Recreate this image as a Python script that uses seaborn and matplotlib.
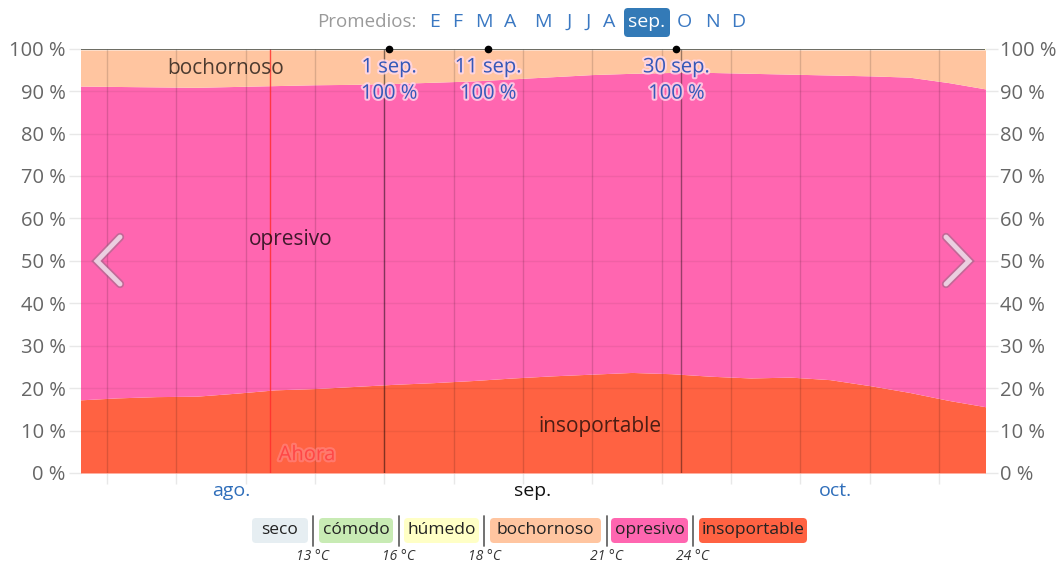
import numpy as np
import pandas as pd
import matplotlib.pyplot as plt
import seaborn as sns
from matplotlib import patheffects as pe
from matplotlib.patches import FancyBboxPatch

sns.set_theme(style="white")
plt.rcParams['font.family'] = ['Open Sans', 'DejaVu Sans']

# Data: day 0 = 1 ago., shares in % per comfort class
days = [0, 4, 8, 12, 16, 20, 24, 28, 32, 36, 40, 44, 48, 52, 56, 60, 64, 68, 72, 76, 80, 84, 88, 92]
insoportable = [17.2, 17.7, 18.0, 18.1, 18.8, 19.6, 19.9, 20.4, 20.9, 21.3, 21.8, 22.4,
                22.9, 23.3, 23.7, 23.4, 22.8, 22.4, 22.6, 22.0, 20.6, 19.0, 17.1, 15.5]
opresivo = [74.0, 73.4, 73.0, 72.8, 72.3, 71.7, 71.6, 71.2, 70.9, 70.8, 70.6, 70.5,
            70.5, 70.6, 70.5, 71.0, 71.6, 71.8, 71.4, 71.8, 73.0, 74.3, 74.9, 74.9]
bochornoso = [8.5, 8.6, 8.7, 8.8, 8.6, 8.4, 8.2, 8.1, 7.9, 7.6, 7.3, 6.8,
              6.3, 5.8, 5.5, 5.3, 5.3, 5.5, 5.7, 5.9, 6.1, 6.4, 7.7, 9.3]
humedo = [100 - a - b - c for a, b, c in zip(insoportable, opresivo, bochornoso)]

df = pd.DataFrame({'dia': days, 'insoportable': insoportable, 'opresivo': opresivo,
                   'bochornoso': bochornoso, 'húmedo': humedo})
df['total'] = df[['insoportable', 'opresivo', 'bochornoso', 'húmedo']].sum(axis=1)

legend_names = ['seco', 'cómodo', 'húmedo', 'bochornoso', 'opresivo', 'insoportable']
legend_colors = ['#E6EEF2', '#C8EBB4', '#FFFFC6', '#FFC5A0', '#FF66B0', '#FF6242']
legend_temps = ['13 °C', '16 °C', '18 °C', '21 °C', '24 °C']
nav_letters = ['E', 'F', 'M', 'A', 'M', 'J', 'J', 'A', 'sep.', 'O', 'N', 'D']
week_lines = [3, 10, 17, 24, 31, 38, 45, 52, 59, 66, 73, 80, 87]
month_bounds = [31, 61]
month_labels = [('ago.', 15.5, '#2F6EBA'), ('sep.', 46, '#111111'), ('oct.', 76.5, '#2F6EBA')]
marks = [(31.5, '1 sep.'), (41.5, '11 sep.'), (60.5, '30 sep.')]
now_day = 19.5

W, H = 1058, 565
fig = plt.figure(figsize=(W / 100, H / 100), dpi=100)
ax = fig.add_axes([81 / W, 92 / H, 904 / W, (473 - 48.7) / H])

ax.stackplot(df['dia'], df['insoportable'], df['opresivo'], df['bochornoso'], df['húmedo'],
             colors=['#FF6242', '#FF66B0', '#FFC5A0', '#FFFFC6'], linewidth=0, zorder=1)
sns.lineplot(data=df, x='dia', y='total', color='#555555', linewidth=1.2, ax=ax, zorder=4)

for v in range(0, 101, 10):
    ax.axhline(v, color='black', alpha=0.06, lw=1, zorder=2)
for d in week_lines:
    ax.axvline(d, color='black', alpha=0.14, lw=1, zorder=3)
for d in month_bounds:
    ax.axvline(d, color='black', alpha=0.4, lw=1, zorder=3)
ax.axvline(now_day, color='#FF2A2A', alpha=0.8, lw=1, zorder=3)

ax.set_xlim(0.38, 91.65)
ax.set_ylim(0, 100)
ax.set_xticks(week_lines)
ax.set_xticklabels([])
ax.set_yticks(range(0, 101, 10))
ax.set_yticklabels([f'{v} %' for v in range(0, 101, 10)])
ax.tick_params(axis='y', left=True, right=True, labelleft=True, labelright=True,
               length=9, width=1, color='#E8E8E8', labelcolor='#666666', labelsize=14.5, pad=2)
ax.tick_params(axis='x', bottom=True, length=8, width=1, color='#E8E8E8')
ax.set_xlabel('')
ax.set_ylabel('')
for s in ax.spines.values():
    s.set_visible(False)

for name, d, c in month_labels:
    ax.text(d, -4.3, name, color=c, fontsize=14, ha='center', va='center', clip_on=False)

glow = [pe.withStroke(linewidth=3, foreground='#FFD9EC', alpha=0.8)]
for d, lab in marks:
    ax.plot([d], [100], 'o', color='black', ms=4.5, zorder=6, clip_on=False)
    ax.text(d, 95.6, lab, color='#3558B8', fontsize=14.5, ha='center', va='center',
            path_effects=glow, zorder=7)
    ax.text(d, 89.4, '100 %', color='#3558B8', fontsize=14.5, ha='center', va='center',
            path_effects=glow, zorder=7)

ax.text(15.0, 95.3, 'bochornoso', color='black', alpha=0.7, fontsize=15, ha='center', va='center', zorder=5)
ax.text(21.6, 55.0, 'opresivo', color='black', alpha=0.75, fontsize=15, ha='center', va='center', zorder=5)
ax.text(52.8, 11.0, 'insoportable', color='black', alpha=0.7, fontsize=15, ha='center', va='center', zorder=5)
ax.text(23.2, 4.2, 'Ahora', color='#FF4040', alpha=0.85, fontsize=14.5, ha='center', va='center', zorder=5,
        path_effects=[pe.withStroke(linewidth=3, foreground='#FF8A8A', alpha=0.6)])

# overlay in pixel coordinates
ov = fig.add_axes([0, 0, 1, 1], facecolor='none')
ov.set_xlim(0, W)
ov.set_ylim(H, 0)
ov.axis('off')

# navigation chevrons
chev = [pe.Stroke(linewidth=6, foreground='#8A6A80', alpha=0.5), pe.Normal()]
ov.plot([120, 97, 120], [237, 261, 284], color='#EBCFE0', lw=3.5, solid_capstyle='round',
        solid_joinstyle='miter', path_effects=chev)
ov.plot([946, 969, 946], [237, 261, 284], color='#EBCFE0', lw=3.5, solid_capstyle='round',
        solid_joinstyle='miter', path_effects=chev)

# month selector
ov.text(367, 22, 'Promedios:', color='#9A9A9A', fontsize=13.5, ha='center', va='center')
nav_x = [435, 457, 484, 510, 543, 569, 588, 609, 647, 684, 712, 738]
for lab, x in zip(nav_letters, nav_x):
    if lab == 'sep.':
        ov.add_patch(FancyBboxPatch((624, 8), 46, 29, boxstyle='round,pad=0,rounding_size=4',
                                    color='#337AB7', lw=0))
        ov.text(x, 22, lab, color='white', fontsize=14, ha='center', va='center')
    else:
        ov.text(x, 22, lab, color='#3A78C2', fontsize=14, ha='center', va='center')

# legend
box_x = [(252, 308), (319, 393), (404, 479), (490, 601), (611, 688), (699, 807)]
for (x0, x1), name, c in zip(box_x, legend_names, legend_colors):
    ov.add_patch(FancyBboxPatch((x0, 518), x1 - x0, 25, boxstyle='round,pad=0,rounding_size=4',
                                color=c, lw=0))
    ov.text((x0 + x1) / 2, 530.5, name, color='#222222', fontsize=12.5, ha='center', va='center')
sep_x = [313, 399, 484, 607, 693]
for x, t in zip(sep_x, legend_temps):
    ov.plot([x, x], [516, 546], color='#666666', lw=1.3)
    ov.text(x, 557, t, color='#333333', fontsize=10, style='italic', ha='center', va='center')

fig.savefig('out.png', dpi=100)
